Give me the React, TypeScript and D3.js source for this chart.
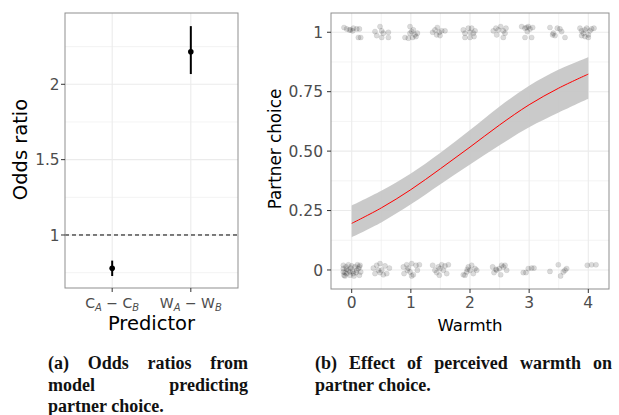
import React, { useLayoutEffect, useRef } from "react";
import * as d3 from "d3";

// ---------- Panel (a): odds ratios ----------
const predictorBase = ["C", "W"];
const predictorSubA = ["A", "A"];
const predictorSubB = ["B", "B"];
const oddsEstimate = [0.779, 2.216];
const oddsLower = [0.728, 2.068];
const oddsUpper = [0.83, 2.386];
const oddsTicks = [1, 1.5, 2];
const oddsMinor = [0.75, 1.25, 1.75, 2.25];

// ---------- Panel (b): fitted logistic curve ----------
const fitWarmth = [0, 0.5, 1, 1.5, 2, 2.5, 3, 3.5, 4];
const fitProb = [0.196, 0.261, 0.338, 0.426, 0.517, 0.61, 0.695, 0.765, 0.824];
const fitLower = [0.138, 0.2, 0.276, 0.361, 0.444, 0.525, 0.6, 0.662, 0.72];
const fitUpper = [0.271, 0.333, 0.406, 0.493, 0.589, 0.688, 0.775, 0.843, 0.895];
const warmthTicks = [0, 1, 2, 3, 4];
const warmthMinor = [0.5, 1.5, 2.5, 3.5];
const choiceTicks = [0, 0.25, 0.5, 0.75, 1];
const choiceTickLabels = ["0", "0.25", "0.50", "0.75", "1"];
const choiceMinor = [0.125, 0.375, 0.625, 0.875];

// jittered observations (warmth, choice)
const obsWarmth = [
  // choice = 1
  -0.13, -0.085, -0.017, 0.028, 0.085, 0.13, 0.113, 0.017, -0.04, 0.152,
  0.394, 0.479, 0.507, 0.535, 0.62, 0.507, 0.62, 0.423,
  0.901, 0.958, 0.986, 1.014, 1.042, 1.07, 1.11, 1.03, 1.087, 0.986,
  1.369, 1.408, 1.448, 1.482, 1.521, 1.577, 1.437, 1.493,
  1.887, 1.915, 1.915, 1.972, 2.0, 2.0, 2.056, 2.068, 2.085, 2.028,
  2.394, 2.439, 2.479, 2.518, 2.563, 2.592, 2.563, 2.451, 2.608,
  2.873, 2.93, 2.958, 2.986, 3.014, 3.059, 2.93, 3.042, 2.969,
  3.352, 3.397, 3.437, 3.476, 3.521, 3.549, 3.606, 3.408,
  3.859, 3.887, 3.915, 3.944, 3.972, 4.0, 4.028, 4.056, 4.096, 3.944, 3.887, 4.0,
  // choice = 0
  -0.141, -0.141, -0.141, -0.113, -0.096, -0.085, -0.056, -0.056, -0.028, -0.017,
  0.0, 0.017, 0.039, 0.056, 0.073, 0.096, 0.113, 0.13, 0.141, 0.152,
  -0.085, 0.028, -0.028, 0.085, -0.113, 0.13, -0.13,
  0.366, 0.394, 0.423, 0.451, 0.479, 0.507, 0.535, 0.563, 0.592, 0.637, 0.479,
  0.873, 0.885, 0.93, 0.958, 0.986, 1.014, 1.042, 1.087, 1.11, 1.144, 1.014, 0.941,
  1.369, 1.408, 1.437, 1.465, 1.482, 1.521, 1.549, 1.577, 1.606, 1.634, 1.493,
  1.887, 1.944, 1.972, 2.0, 2.028, 2.056, 2.085, 1.915, 1.955, 2.113,
  2.383, 2.406, 2.451, 2.496, 2.535, 2.563, 2.592, 2.62, 2.518, 2.439,
  2.901, 2.946, 2.986, 3.042, 3.082,
  3.352, 3.493, 3.532, 3.577, 3.606, 3.634,
  3.983, 4.056, 4.13,
];
const obsChoice = [
  // choice = 1
  1.02, 1.014, 1.01, 1.017, 1.014, 1.014, 0.978, 1.006, 1.01, 0.978,
  1.003, 1.024, 1.006, 0.996, 1.0, 0.978, 0.978, 0.986,
  0.978, 0.975, 1.024, 1.003, 1.01, 0.989, 0.996, 0.978, 0.982, 0.996,
  1.0, 1.01, 1.02, 1.0, 1.006, 1.006, 0.989, 0.986,
  1.01, 0.996, 0.978, 1.017, 1.0, 0.978, 0.996, 0.982, 1.006, 1.017,
  1.006, 1.017, 1.01, 1.024, 1.006, 0.996, 0.978, 0.989, 1.017,
  1.024, 1.017, 1.02, 1.024, 1.014, 1.02, 0.978, 0.978, 1.003,
  1.02, 0.989, 0.986, 1.017, 1.014, 1.003, 0.978, 0.996,
  1.017, 1.006, 0.996, 1.01, 1.017, 0.989, 1.006, 1.014, 1.017, 0.982, 0.986, 0.978,
  // choice = 0
  0.02, 0.006, -0.008, -0.025, 0.013, -0.015, 0.022, -0.001, -0.022, 0.008,
  0.017, -0.006, -0.025, 0.013, -0.011, 0.022, 0.006, -0.022, 0.02, -0.008,
  0.003, -0.015, -0.008, -0.001, -0.011, 0.013, -0.022,
  0.008, -0.015, 0.02, -0.001, 0.027, -0.001, -0.02, 0.017, -0.015, 0.008, -0.011,
  0.013, -0.015, 0.022, 0.008, -0.008, 0.027, -0.02, 0.02, -0.001, 0.022, -0.025, -0.001,
  0.02, -0.001, -0.011, 0.013, -0.022, 0.022, -0.001, 0.017, -0.015, 0.022, 0.006,
  -0.02, -0.008, 0.013, -0.001, 0.02, -0.015, 0.006, -0.022, 0.003, -0.001,
  0.013, -0.011, -0.001, 0.006, 0.02, 0.013, 0.02, -0.001, -0.02, 0.003,
  -0.011, -0.011, 0.006, 0.008, 0.008,
  -0.006, 0.022, -0.025, -0.008, -0.001, 0.006,
  0.02, 0.022, 0.022,
];

// ---------- Captions ----------
const captionA = [["(a)", "Odds", "ratios", "from"], ["model", "predicting"], ["partner choice."]];
const captionAJustify = [true, true, false];
const captionB = [["(b)", "Effect", "of", "perceived", "warmth", "on"], ["partner choice."]];
const captionBJustify = [true, false];

const SANS = "DejaVu Sans, Verdana, sans-serif";
const SERIF = "Liberation Serif, Times New Roman, serif";
const GRID = "#ebebeb";
const BORDER = "#8f8f8f";
const TICK = "#333333";
const TICKLABEL = "#4d4d4d";

function Caption({ lines, justify, x0, x1, y0, lh }: any) {
  return (
    <g fontFamily={SERIF} fontWeight="bold" fontSize={18} fill="#111">
      {lines.map((words: string[], i: number) =>
        justify[i] ? (
          <g key={i} className="just" data-x0={x0} data-x1={x1}>
            {words.map((w, j) => (
              <text key={j} x={x0 + (j * (x1 - x0)) / words.length} y={y0 + i * lh}>
                {w}
              </text>
            ))}
          </g>
        ) : (
          <text key={i} x={x0} y={y0 + i * lh}>
            {words.join(" ")}
          </text>
        )
      )}
    </g>
  );
}

export default function App() {
  const ref = useRef<SVGSVGElement>(null);

  useLayoutEffect(() => {
    const svg = ref.current;
    if (!svg) return;
    svg.querySelectorAll("g.just").forEach((g) => {
      const x0 = +(g.getAttribute("data-x0") || 0);
      const x1 = +(g.getAttribute("data-x1") || 0);
      const ts = Array.from(g.querySelectorAll("text")) as SVGTextElement[];
      const ws = ts.map((t) => t.getComputedTextLength());
      const gap = (x1 - x0 - d3.sum(ws)) / Math.max(1, ts.length - 1);
      let x = x0;
      ts.forEach((t, i) => {
        t.setAttribute("x", String(x));
        x += ws[i] + gap;
      });
    });
  }, []);

  // Panel (a) geometry
  const aL = 65, aR = 238, aT = 13, aB = 288;
  const ax = d3.scalePoint<string>().domain(predictorBase).range([aL, aR]).padding(0.6);
  const ay = d3.scaleLinear().domain([0.6483, 2.4731]).range([aB, aT]);

  // Panel (b) geometry
  const bL = 331, bR = 609, bT = 13, bB = 289;
  const bx = d3.scaleLinear().domain([-0.35, 4.35]).range([bL, bR]);
  const by = d3.scaleLinear().domain([-0.08, 1.081]).range([bB, bT]);

  const fitIdx = d3.range(fitWarmth.length);
  const area = d3
    .area<number>()
    .x((i) => bx(fitWarmth[i]))
    .y0((i) => by(fitLower[i]))
    .y1((i) => by(fitUpper[i]))
    .curve(d3.curveCatmullRom);
  const line = d3
    .line<number>()
    .x((i) => bx(fitWarmth[i]))
    .y((i) => by(fitProb[i]))
    .curve(d3.curveCatmullRom);

  return (
    <svg
      ref={ref}
      width={619}
      height={415}
      style={{ position: "absolute", left: 0, top: 0, display: "block", background: "#fff" }}
    >
      <rect x={0} y={0} width={619} height={415} fill="#fff" />

      {/* ---------------- Panel (a) ---------------- */}
      <g>
        {oddsMinor.map((v) => (
          <line key={"amn" + v} x1={aL} x2={aR} y1={ay(v)} y2={ay(v)} stroke={GRID} strokeWidth={0.6} />
        ))}
        {oddsTicks.map((v) => (
          <line key={"amj" + v} x1={aL} x2={aR} y1={ay(v)} y2={ay(v)} stroke={GRID} strokeWidth={1.1} />
        ))}
        {predictorBase.map((p) => (
          <line key={"avx" + p} x1={ax(p)} x2={ax(p)} y1={aT} y2={aB} stroke={GRID} strokeWidth={1.1} />
        ))}
        <line x1={aL} x2={aR} y1={ay(1)} y2={ay(1)} stroke="#000" strokeWidth={1} strokeDasharray="4,3" />
        {predictorBase.map((p, i) => (
          <g key={"pt" + p}>
            <line x1={ax(p)} x2={ax(p)} y1={ay(oddsLower[i])} y2={ay(oddsUpper[i])} stroke="#000" strokeWidth={2} />
            <circle cx={ax(p)} cy={ay(oddsEstimate[i])} r={2.8} fill="#000" />
          </g>
        ))}
        <rect x={aL} y={aT} width={aR - aL} height={aB - aT} fill="none" stroke={BORDER} strokeWidth={1} />
        {oddsTicks.map((v) => (
          <g key={"aty" + v}>
            <line x1={aL - 4} x2={aL} y1={ay(v)} y2={ay(v)} stroke={TICK} strokeWidth={1} />
            <text x={aL - 5.5} y={ay(v)} dy="0.36em" textAnchor="end" fontFamily={SANS} fontSize={15.3} fill={TICKLABEL}>
              {String(v)}
            </text>
          </g>
        ))}
        {predictorBase.map((p, i) => (
          <g key={"atx" + p}>
            <line x1={ax(p)} x2={ax(p)} y1={aB} y2={aB + 4} stroke={TICK} strokeWidth={1} />
            <text x={ax(p)} y={308} textAnchor="middle" fontFamily={SANS} fontSize={14} fill={TICKLABEL}>
              {p}
              <tspan fontSize={10} fontStyle="italic" dy={3}>{predictorSubA[i]}</tspan>
              <tspan dy={-3}>{" \u2212 " + p}</tspan>
              <tspan fontSize={10} fontStyle="italic" dy={3}>{predictorSubB[i]}</tspan>
            </text>
          </g>
        ))}
        <text x={(aL + aR) / 2} y={330} textAnchor="middle" fontFamily={SANS} fontSize={19.5} fill="#000">
          Predictor
        </text>
        <text
          transform={`translate(27,${(aT + aB) / 2 - 1}) rotate(-90)`}
          textAnchor="middle"
          fontFamily={SANS}
          fontSize={19.5}
          fill="#000"
        >
          Odds ratio
        </text>
      </g>

      {/* ---------------- Panel (b) ---------------- */}
      <g>
        {choiceMinor.map((v) => (
          <line key={"bmn" + v} x1={bL} x2={bR} y1={by(v)} y2={by(v)} stroke={GRID} strokeWidth={0.6} />
        ))}
        {warmthMinor.map((v) => (
          <line key={"bvmn" + v} x1={bx(v)} x2={bx(v)} y1={bT} y2={bB} stroke={GRID} strokeWidth={0.6} />
        ))}
        {choiceTicks.map((v) => (
          <line key={"bmj" + v} x1={bL} x2={bR} y1={by(v)} y2={by(v)} stroke={GRID} strokeWidth={1.1} />
        ))}
        {warmthTicks.map((v) => (
          <line key={"bvmj" + v} x1={bx(v)} x2={bx(v)} y1={bT} y2={bB} stroke={GRID} strokeWidth={1.1} />
        ))}
        {obsWarmth.map((w, i) => (
          <circle
            key={"o" + i}
            cx={bx(w)}
            cy={by(obsChoice[i])}
            r={2.6}
            fill="#000"
            fillOpacity={0.14}
            stroke="#000"
            strokeOpacity={0.12}
            strokeWidth={0.5}
          />
        ))}
        <path d={area(fitIdx) || ""} fill="#c4c4c4" fillOpacity={0.9} />
        <path d={line(fitIdx) || ""} fill="none" stroke="#ff0000" strokeWidth={1} />
        <rect x={bL} y={bT} width={bR - bL} height={bB - bT} fill="none" stroke={BORDER} strokeWidth={1} />
        {choiceTicks.map((v, i) => (
          <g key={"bty" + v}>
            <line x1={bL - 4} x2={bL} y1={by(v)} y2={by(v)} stroke={TICK} strokeWidth={1} />
            <text x={bL - 8} y={by(v)} dy="0.36em" textAnchor="end" fontFamily={SANS} fontSize={15.5} fill={TICKLABEL}>
              {choiceTickLabels[i]}
            </text>
          </g>
        ))}
        {warmthTicks.map((v) => (
          <g key={"btx" + v}>
            <line x1={bx(v)} x2={bx(v)} y1={bB} y2={bB + 4} stroke={TICK} strokeWidth={1} />
            <text x={bx(v)} y={307.5} textAnchor="middle" fontFamily={SANS} fontSize={15.5} fill={TICKLABEL}>
              {String(v)}
            </text>
          </g>
        ))}
        <text x={(bL + bR) / 2} y={331} textAnchor="middle" fontFamily={SANS} fontSize={16.6} fill="#000">
          Warmth
        </text>
        <text
          transform={`translate(281,${(bT + bB) / 2 - 2}) rotate(-90)`}
          textAnchor="middle"
          fontFamily={SANS}
          fontSize={16.8}
          fill="#000"
        >
          Partner choice
        </text>
      </g>

      {/* ---------------- Captions ---------------- */}
      <Caption lines={captionA} justify={captionAJustify} x0={48} x1={248} y0={369.3} lh={21.2} />
      <Caption lines={captionB} justify={captionBJustify} x0={315} x1={612} y0={369.3} lh={21.2} />
    </svg>
  );
}
